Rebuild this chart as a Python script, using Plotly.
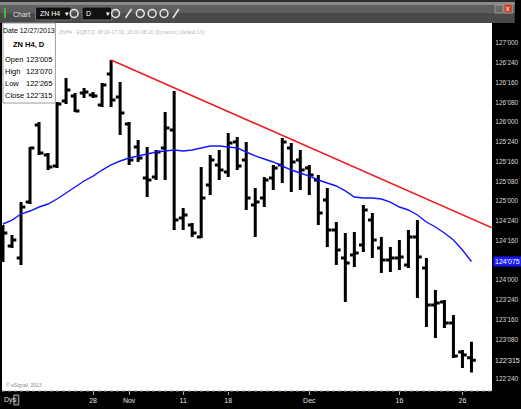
import plotly.graph_objects as go

# ---------------- data ----------------
dates = [
    "2013-10-14", "2013-10-15", "2013-10-16", "2013-10-17", "2013-10-18",
    "2013-10-21", "2013-10-22", "2013-10-23", "2013-10-24", "2013-10-25",
    "2013-10-28", "2013-10-29", "2013-10-30", "2013-10-31",
    "2013-11-01", "2013-11-04", "2013-11-05", "2013-11-06", "2013-11-07",
    "2013-11-08", "2013-11-11", "2013-11-12", "2013-11-13", "2013-11-14",
    "2013-11-15", "2013-11-18", "2013-11-19", "2013-11-20", "2013-11-21",
    "2013-11-22", "2013-11-25", "2013-11-26", "2013-11-27", "2013-11-29",
    "2013-12-02", "2013-12-03", "2013-12-04", "2013-12-05", "2013-12-06",
    "2013-12-09", "2013-12-10", "2013-12-11", "2013-12-12", "2013-12-13",
    "2013-12-16", "2013-12-17", "2013-12-18", "2013-12-19", "2013-12-20",
    "2013-12-23", "2013-12-24", "2013-12-26", "2013-12-27",
]
opens = [
    124.380, 124.430, 124.278, 124.987, 125.962, 125.582, 125.443, 126.266, 126.329, 126.367,
    126.342, 126.215, 126.608, 126.316, 125.975, 125.684, 125.291, 125.304, 125.671, 125.899,
    124.785, 124.696, 124.544, 125.203, 125.456, 125.367, 125.747, 125.519, 124.949, 125.038,
    125.291, 125.456, 125.671, 125.519, 125.418, 125.266, 125.013, 124.633, 124.278, 124.316,
    124.443, 124.759, 124.405, 124.253, 124.278, 124.190, 124.544, 124.152, 123.684, 123.722,
    123.456, 123.089, 123.016,
]
highs = [
    124.696, 124.570, 124.987, 125.684, 126.000, 125.608, 126.253, 126.557, 126.367, 126.430,
    126.380, 126.494, 126.785, 126.506, 126.000, 125.772, 125.684, 125.646, 126.127, 126.392,
    124.911, 124.722, 125.430, 125.582, 125.646, 125.861, 125.810, 125.747, 125.165, 125.304,
    125.456, 125.797, 125.734, 125.646, 125.456, 125.329, 125.165, 124.734, 124.595, 124.608,
    124.949, 124.848, 124.544, 124.418, 124.506, 124.633, 124.759, 124.278, 123.873, 123.747,
    123.557, 123.114, 123.219,
]
lows = [
    124.228, 124.405, 124.190, 124.962, 125.582, 125.392, 125.418, 126.228, 126.127, 126.304,
    126.304, 126.190, 126.190, 125.835, 125.456, 125.494, 125.051, 125.266, 125.266, 124.633,
    124.633, 124.544, 124.532, 125.076, 125.266, 125.304, 125.392, 124.886, 124.544, 124.924,
    125.139, 125.228, 125.114, 125.139, 125.076, 124.696, 124.418, 124.190, 123.722, 124.165,
    124.354, 124.278, 124.089, 124.101, 124.127, 124.152, 123.772, 123.405, 123.266, 123.392,
    123.013, 122.886, 122.828,
]
closes = [
    124.595, 124.506, 124.924, 125.671, 125.608, 125.430, 126.228, 126.405, 126.139, 126.380,
    126.329, 126.468, 126.278, 126.114, 125.519, 125.544, 125.266, 125.620, 125.924, 124.759,
    124.823, 124.595, 125.038, 125.519, 125.392, 125.734, 125.443, 125.038, 124.987, 125.266,
    125.418, 125.747, 125.494, 125.392, 125.329, 124.848, 124.633, 124.380, 124.215, 124.342,
    124.886, 124.506, 124.253, 124.278, 124.291, 124.544, 124.291, 123.684, 123.709, 123.456,
    123.038, 123.051, 122.984,
]
ma_values = [
    124.709, 124.759, 124.835, 124.873, 124.924, 124.962, 125.025, 125.101, 125.177, 125.253,
    125.316, 125.392, 125.456, 125.506, 125.544, 125.570, 125.595, 125.620, 125.633, 125.646,
    125.633, 125.646, 125.671, 125.696, 125.696, 125.684, 125.671, 125.620, 125.570, 125.532,
    125.494, 125.443, 125.392, 125.354, 125.316, 125.266, 125.228, 125.190, 125.127, 125.051,
    125.038, 125.038, 125.025, 124.987, 124.924, 124.886, 124.823, 124.734, 124.671, 124.595,
    124.506, 124.380, 124.234,
]
tick_dates = ["2013-10-28", "2013-11-01", "2013-11-11", "2013-11-18",
              "2013-12-02", "2013-12-16", "2013-12-26"]
tick_text = ["28", "Nov", "11", "18", "Dec", "16", "26"]
price_ticks = [127.0, 126.75, 126.5, 126.25, 126.0, 125.75, 125.5, 125.25,
               125.0, 124.75, 124.5, 124.0, 123.75, 123.5, 123.25, 122.75]
price_tick_text = ["127'000", "126'240", "126'160", "126'080", "126'000",
                   "125'240", "125'160", "125'080", "125'000", "124'240",
                   "124'160", "124'000", "123'240", "123'160", "123'080",
                   "122'240"]
trend_start_date = "2013-10-30"
trend_end_price = 124.66
ma_last_text = "124'075"
close_text = "122'315"
info_title = "ZN H4, D"
info_date = "Date 12/27/2013"
info_labels = ["Open", "High", "Low", "Close"]
info_values = ["123'005", "123'070", "122'265", "122'315"]
status_text = "ZNH4 - EQBT.D, 08:20-17:00, 18:00-08:20 (Dynamic) (default 10)"

# ---------------- geometry ----------------
W, H = 521, 409
PL, PR, PT, PB = 2, 498, 23, 391
X_MIN, X_MAX = -0.11, 54.28
Y_MIN, Y_MAX = 122.595, 127.253


def px(x):
    return (x - PL) / (PR - PL)


def py(y):
    return (PB - y) / (PB - PT)


xpos = list(range(len(dates)))
FONT = "Liberation Sans, Arial, sans-serif"

fig = go.Figure()
fig.add_trace(go.Ohlc(
    x=xpos, open=opens, high=highs, low=lows, close=closes,
    increasing=dict(line=dict(color="black", width=3)),
    decreasing=dict(line=dict(color="black", width=3)),
    tickwidth=0.48, showlegend=False, hoverinfo="skip",
))
fig.add_trace(go.Scatter(
    x=xpos, y=ma_values, mode="lines",
    line=dict(color="#1414ff", width=1.4), showlegend=False, hoverinfo="skip",
))
t0 = dates.index(trend_start_date)
fig.add_trace(go.Scatter(
    x=[t0, X_MAX], y=[highs[t0], trend_end_price], mode="lines",
    line=dict(color="#ee1c1c", width=1.6), showlegend=False, hoverinfo="skip",
))

shapes = []
ann = []

# title bar
shapes += [
    dict(type="rect", xref="paper", yref="paper", x0=px(0), x1=px(W), y0=py(0), y1=py(23),
         fillcolor="#4a4a4a", line=dict(width=0), layer="above"),
    dict(type="rect", xref="paper", yref="paper", x0=px(0), x1=px(W), y0=py(2), y1=py(5),
         fillcolor="#8a8a8a", line=dict(width=0), layer="above"),
    dict(type="rect", xref="paper", yref="paper", x0=px(0), x1=px(W), y0=py(5), y1=py(13),
         fillcolor="#5e5e5e", line=dict(width=0), layer="above"),
    dict(type="rect", xref="paper", yref="paper", x0=px(0), x1=px(W), y0=py(0), y1=py(2),
         fillcolor="#2c2c2c", line=dict(width=0), layer="above"),
    dict(type="rect", xref="paper", yref="paper", x0=px(4), x1=px(6), y0=py(8), y1=py(18),
         fillcolor="#3fbf3f", line=dict(width=0), layer="above"),
    dict(type="rect", xref="paper", yref="paper", x0=px(36), x1=px(72), y0=py(7), y1=py(20),
         fillcolor="#111111", line=dict(color="#777", width=1), layer="above"),
    dict(type="rect", xref="paper", yref="paper", x0=px(83), x1=px(113), y0=py(7), y1=py(20),
         fillcolor="#111111", line=dict(color="#777", width=1), layer="above"),
    dict(type="rect", xref="paper", yref="paper", x0=px(501), x1=px(509), y0=py(5), y1=py(13),
         fillcolor="#6a6a6a", line=dict(color="#999", width=1), layer="above"),
    dict(type="rect", xref="paper", yref="paper", x0=px(510), x1=px(519), y0=py(4), y1=py(13),
         fillcolor="#c8442a", line=dict(color="#999", width=1), layer="above"),
]
for cx in [75, 117, 142, 154, 166]:
    shapes.append(dict(type="circle", xref="paper", yref="paper",
                       x0=px(cx - 4), x1=px(cx + 4), y0=py(9.5), y1=py(17.5),
                       line=dict(color="#e8e8e8", width=1.5), fillcolor="rgba(0,0,0,0)",
                       layer="above"))
for cx in [130, 178]:
    shapes.append(dict(type="line", xref="paper", yref="paper",
                       x0=px(cx - 3), x1=px(cx + 3), y0=py(18), y1=py(9),
                       line=dict(color="#e8e8e8", width=1.5), layer="above"))

ann += [
    dict(text="Chart", x=px(11), y=py(14), xanchor="left", yanchor="middle",
         font=dict(size=7, color="#e0e0e0", family=FONT)),
    dict(text="ZN H4", x=px(38), y=py(13.5), xanchor="left", yanchor="middle",
         font=dict(size=7, color="#ffffff", family=FONT)),
    dict(text="\u25be", x=px(68), y=py(13.5), xanchor="center", yanchor="middle",
         font=dict(size=7, color="#ffffff", family=FONT)),
    dict(text="D", x=px(85), y=py(13.5), xanchor="left", yanchor="middle",
         font=dict(size=7, color="#ffffff", family=FONT)),
    dict(text="\u25be", x=px(109), y=py(13.5), xanchor="center", yanchor="middle",
         font=dict(size=7, color="#ffffff", family=FONT)),
    dict(text="x", x=px(514.5), y=py(8.5), xanchor="center", yanchor="middle",
         font=dict(size=7, color="#ffffff", family=FONT)),
]

# info box
shapes.append(dict(type="rect", xref="paper", yref="paper", x0=px(3), x1=px(56),
                   y0=py(23), y1=py(103), fillcolor="white",
                   line=dict(color="#9a9a9a", width=1), layer="above"))
ann.append(dict(text=info_date, x=px(29.5), y=py(31), xanchor="center", yanchor="middle",
                font=dict(size=7, color="black", family=FONT)))
ann.append(dict(text="<b>" + info_title + "</b>", x=px(29), y=py(44.5), xanchor="center",
                yanchor="middle", font=dict(size=7.5, color="black", family=FONT)))
for i, (lab, val) in enumerate(zip(info_labels, info_values)):
    yy = 59 + i * 12.3
    ann.append(dict(text=lab, x=px(3.5), y=py(yy), xanchor="left", yanchor="middle",
                    font=dict(size=7.5, color="black", family=FONT)))
    ann.append(dict(text=val, x=px(55), y=py(yy), xanchor="right", yanchor="middle",
                    font=dict(size=7.5, color="black", family=FONT)))

# status text and copyright
ann.append(dict(text=status_text, x=px(58), y=py(32), xanchor="left", yanchor="middle",
                font=dict(size=5, color="#b8b8b8", family=FONT)))
ann.append(dict(text="\u00a9 eSignal, 2013", x=px(4), y=py(385), xanchor="left",
                yanchor="middle", font=dict(size=5, color="#8a8a8a", family=FONT)))

# bottom band extras
ann.append(dict(text="Dys", x=px(2), y=py(400), xanchor="left", yanchor="middle",
                font=dict(size=7, color="#e0e0e0", family=FONT)))
shapes.append(dict(type="rect", xref="paper", yref="paper", x0=px(14), x1=px(19),
                   y0=py(395), y1=py(405), fillcolor="#222",
                   line=dict(color="#aaa", width=1), layer="above"))
shapes.append(dict(type="line", xref="paper", yref="paper", x0=px(2), x1=px(498),
                   y0=py(391), y1=py(391), line=dict(color="#9a9a9a", width=1, dash="dot"),
                   layer="above"))

# right axis value flags
ann.append(dict(text=ma_last_text, xref="paper", yref="y", x=px(499), y=ma_values[-1],
                xanchor="left", yanchor="middle", bgcolor="#1a1aff", borderpad=1,
                font=dict(size=7, color="white", family=FONT)))
ann.append(dict(text=close_text, xref="paper", yref="y", x=px(499), y=closes[-1],
                xanchor="left", yanchor="middle",
                font=dict(size=7, color="#e6e6e6", family=FONT)))

for a in ann:
    a.setdefault("xref", "paper")
    a.setdefault("yref", "paper")
    a["showarrow"] = False

fig.update_layout(
    width=W, height=H, autosize=False,
    margin=dict(l=PL, r=W - PR, t=PT, b=H - PB, pad=0),
    paper_bgcolor="black", plot_bgcolor="white",
    shapes=shapes, annotations=ann, showlegend=False,
    xaxis=dict(range=[X_MIN, X_MAX], showgrid=False, zeroline=False,
               tickvals=[dates.index(d) for d in tick_dates], ticktext=tick_text,
               ticks="outside", ticklen=3, tickcolor="#aaaaaa",
               tickfont=dict(size=7, color="#e0e0e0", family=FONT),
               rangeslider=dict(visible=False), fixedrange=True, showline=False),
    yaxis=dict(range=[Y_MIN, Y_MAX], side="right", showgrid=False, zeroline=False,
               tickvals=price_ticks, ticktext=price_tick_text,
               ticks="outside", ticklen=1, tickcolor="black",
               tickfont=dict(size=6.5, color="#d8d8d8", family=FONT),
               fixedrange=True, showline=False),
)

fig.write_html("out.html", config={"displayModeBar": False},
               post_script="document.body.style.margin='0';"
                           "document.body.style.overflow='hidden';")
